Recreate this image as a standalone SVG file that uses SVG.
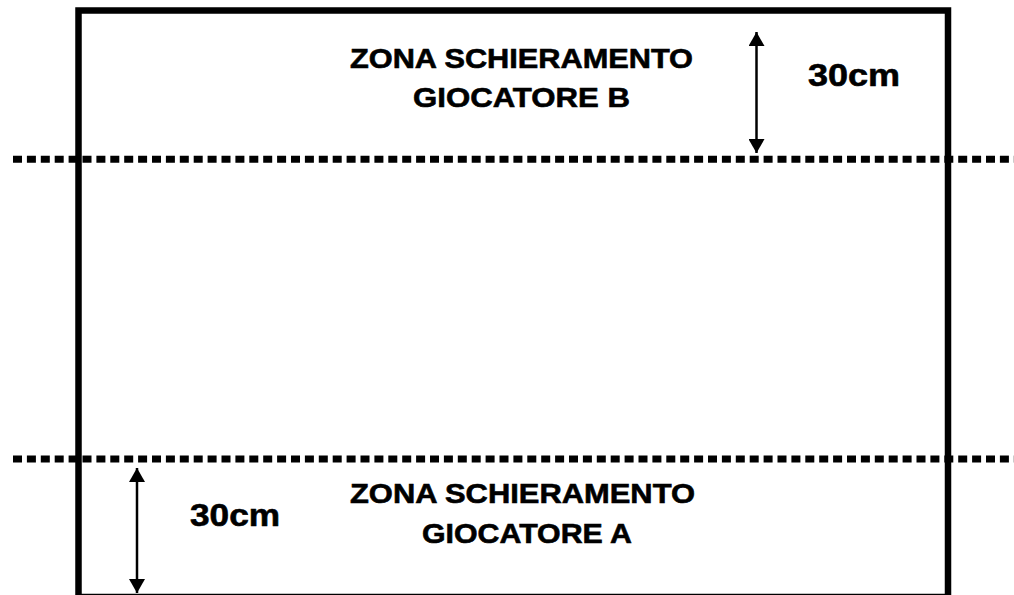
<svg xmlns="http://www.w3.org/2000/svg" width="1014" height="595" viewBox="0 0 1014 595">
<style>
.t{font-family:"Liberation Sans",Arial,sans-serif;font-weight:bold;fill:#000;stroke:#000;stroke-width:0.6}
.z{font-size:27.5px}
.d{font-size:31px}
.dash{stroke:#000;stroke-width:7;stroke-dasharray:9 4.9;fill:none}
.arr{stroke:#000;stroke-width:2.5;fill:none}
</style>
<defs>
<marker id="ah" viewBox="0 0 14 16" refX="14" refY="8" markerWidth="14" markerHeight="16" markerUnits="userSpaceOnUse" orient="auto-start-reverse">
<path d="M0,0 L14,8 L0,16 Z" fill="#000"/>
</marker>
</defs>
<rect width="1014" height="595" fill="#fff"/>
<g id="field">
<rect x="78.5" y="10.5" width="869.5" height="586.5" fill="none" stroke="#000" stroke-width="6.5"/>
</g>
<g id="lines">
<line class="dash" x1="13" y1="159.3" x2="1014" y2="159.3"/>
<line class="dash" x1="13" y1="459" x2="1014" y2="459"/>
</g>
<g id="connectors">
<line class="arr" x1="756.5" y1="32" x2="756.5" y2="153" marker-start="url(#ah)" marker-end="url(#ah)"/>
<line class="arr" x1="137" y1="468" x2="137" y2="593" marker-start="url(#ah)" marker-end="url(#ah)"/>
</g>
<g id="zoneB">
<text class="t z" x="350" y="68" textLength="343" lengthAdjust="spacingAndGlyphs">ZONA SCHIERAMENTO</text>
<text class="t z" x="413" y="107" textLength="217" lengthAdjust="spacingAndGlyphs">GIOCATORE B</text>
</g>
<g id="zoneA">
<text class="t z" x="350" y="503" textLength="345" lengthAdjust="spacingAndGlyphs">ZONA SCHIERAMENTO</text>
<text class="t z" x="422" y="543" textLength="210" lengthAdjust="spacingAndGlyphs">GIOCATORE A</text>
</g>
<g id="dimB">
<text class="t d" x="808" y="86" textLength="92" lengthAdjust="spacingAndGlyphs">30cm</text>
</g>
<g id="dimA">
<text class="t d" x="190" y="526" textLength="90" lengthAdjust="spacingAndGlyphs">30cm</text>
</g>
</svg>
